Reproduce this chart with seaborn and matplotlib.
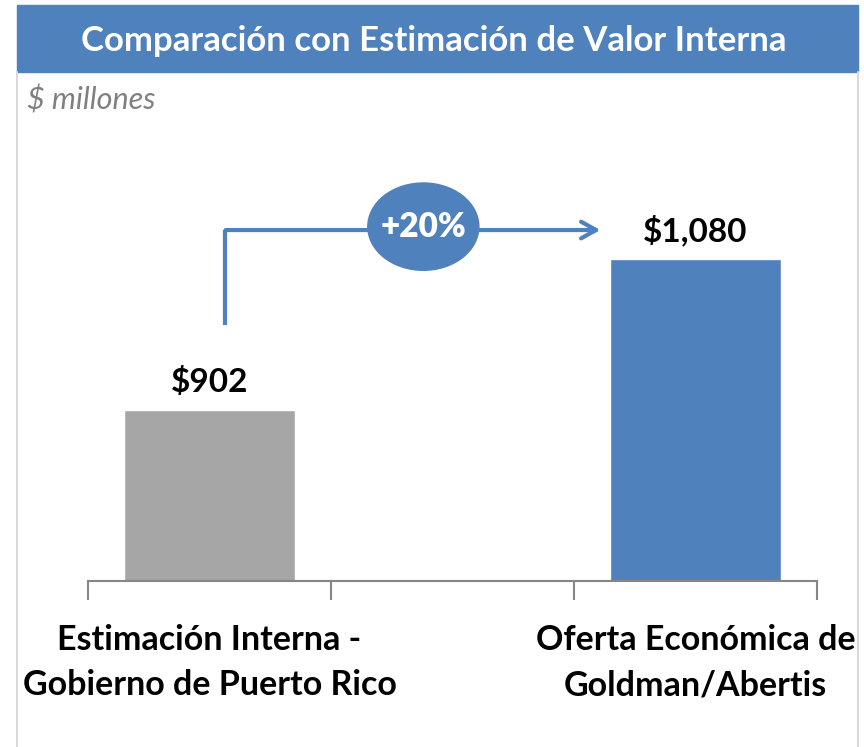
import matplotlib
matplotlib.use("Agg")
import matplotlib.pyplot as plt
import seaborn as sns
import pandas as pd
from matplotlib.patches import Ellipse, Rectangle
from matplotlib.lines import Line2D

# === Data ===
categories = ["Estimación Interna -\nGobierno de Puerto Rico", "Oferta Económica de\nGoldman/Abertis"]
values = [902, 1080]
value_labels = ["$902", "$1,080"]
bar_colors = ["#A6A6A6", "#4F81BD"]
change_label = "+20%"

title = "Comparación con Estimación de Valor Interna"
unit_label = "$ millones"

BLUE = "#4F81BD"
FONT = ["Lato", "DejaVu Sans"]

df = pd.DataFrame({"cat": categories, "val": values})
order = [categories[0], " ", categories[1]]  # blank slot in the middle

sns.set_theme(style="white")
plt.rcParams["font.family"] = FONT

fig = plt.figure(figsize=(8.64, 7.47), dpi=100)
W, H = 864, 747

# === Banner + frame ===
fig.patches.append(Rectangle((17 / W, 1 - 72 / H), (858 - 17) / W, 67 / H,
                             transform=fig.transFigure, color=BLUE, zorder=0))
for xpx in (17, 858):
    fig.lines.append(Line2D([xpx / W, xpx / W], [0, 1 - 72 / H], transform=fig.transFigure,
                            color="#D9D9D9", lw=1.5))
fig.text(434 / W, 1 - 41 / H, title, ha="center", va="center", color="white",
         fontsize=25, fontweight="bold")
fig.text(27 / W, 1 - 100 / H, unit_label, ha="left", va="center", color="#808080",
         fontsize=22, fontstyle="italic")

# === Axes ===
ax = fig.add_axes([88 / W, 166 / H, (817 - 88) / W, (581 - 130) / H])
sns.barplot(data=df, x="cat", y="val", order=order, hue="cat", hue_order=categories,
            palette=bar_colors, width=0.7, legend=False, saturation=1, ax=ax)
ax.set_xlim(-0.5, 2.5)
ax.set_ylim(700, 1232)
ax.set_xlabel("")
ax.set_ylabel("")
ax.set_yticks([])
for s in ("top", "right", "left"):
    ax.spines[s].set_visible(False)
ax.spines["bottom"].set_color("#868686")
ax.spines["bottom"].set_linewidth(1.5)

ax.set_xticks([0, 2])
ax.set_xticklabels([categories[0], categories[1]], fontsize=24.5, fontweight="bold",
                   color="black", linespacing=1.5)
ax.tick_params(axis="x", which="major", length=0, pad=31)
ax.set_xticks([-0.5, 0.5, 1.5, 2.5], minor=True)
ax.tick_params(axis="x", which="minor", bottom=True, length=14, width=1.5,
               color="#868686", direction="out")

# Value labels
for xpos, v, lab in zip([0, 2], values, value_labels):
    ax.annotate(lab, (xpos, v), xytext=(0, 9), textcoords="offset points",
                ha="center", va="bottom", fontsize=24, fontweight="bold", color="black")

# === Growth arrow ===
ax.plot([0.065, 0.065], [1002, 1114], color=BLUE, lw=3, solid_capstyle="butt", clip_on=False)
ax.annotate("", xy=(1.62, 1114), xytext=(0.055, 1114),
            arrowprops=dict(arrowstyle="->,head_length=0.9,head_width=0.5", color=BLUE, lw=3),
            annotation_clip=False)
ax.add_patch(Ellipse((0.88, 1118), 0.457, 103, color=BLUE, zorder=5, clip_on=False))
ax.text(0.88, 1118, change_label, ha="center", va="center", color="white",
        fontsize=24, fontweight="heavy", zorder=6)

fig.savefig("out.png", dpi=100)
